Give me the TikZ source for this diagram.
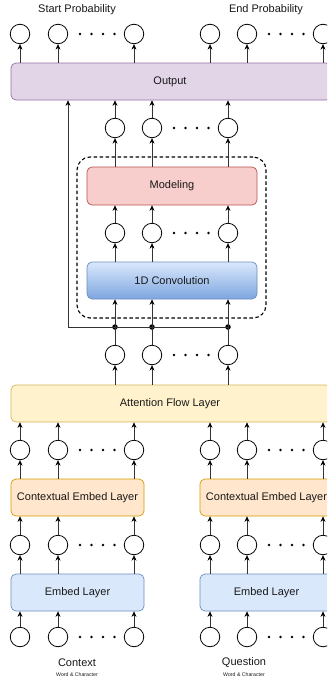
\documentclass[tikz,border=0pt]{standalone}
\usepackage{fontspec}
\setmainfont{Liberation Sans}
\usetikzlibrary{arrows.meta}
\definecolor{outfill}{HTML}{E1D5E7}
\definecolor{outdraw}{HTML}{9673A6}
\definecolor{modfill}{HTML}{F8CECC}
\definecolor{moddraw}{HTML}{B85450}
\definecolor{convtop}{HTML}{DAE8FC}
\definecolor{convbot}{HTML}{7EA6E0}
\definecolor{bluedraw}{HTML}{6C8EBF}
\definecolor{attfill}{HTML}{FFF2CC}
\definecolor{attdraw}{HTML}{D6B656}
\definecolor{ctxfill}{HTML}{FFE6CC}
\definecolor{ctxdraw}{HTML}{D79B00}
\definecolor{embfill}{HTML}{DAE8FC}
\definecolor{linecol}{HTML}{333333}
\begin{document}
\begin{tikzpicture}[x=1pt,y=-1pt,
  neuron/.style={circle,draw=black,line width=0.8pt,minimum size=19.5pt,inner sep=0pt},
  layer/.style={draw,rounded corners=5pt,line width=0.7pt,inner sep=0pt},
  lbl/.style={font=\fontsize{11}{13}\selectfont,inner sep=0pt,text=black!90},
  small/.style={font=\fontsize{5.2}{6}\selectfont,inner sep=0pt,text=black!90},
  arr/.style={draw=linecol,-{Stealth[length=5.5pt,width=5pt,color=black]},line width=0.75pt},
  wire/.style={draw=linecol,line width=0.75pt},
  dotn/.style={circle,fill=black,inner sep=0pt,minimum size=2.8pt},
  jn/.style={circle,fill=black,inner sep=0pt,minimum size=5.5pt}]
\useasboundingbox (0,0) rectangle (327,683);
\clip (0,0) rectangle (327,683);
\fill[white] (0,0) rectangle (327,683);

% ---------- boxes ----------
\node[layer,fill=outfill,draw=outdraw,minimum width=320,minimum height=37] (out) at (171,81.5) {};
\node[lbl] (outT) at (170,81.5) {Output};
\node[draw=black,dashed,dash pattern=on 3.5pt off 2.5pt,line width=1.1pt,rounded corners=13pt,minimum width=189,minimum height=161,inner sep=0pt] (dash) at (171.5,237.5) {};
\node[layer,fill=modfill,draw=moddraw,minimum width=170,minimum height=38,lbl] (mod) at (172,186) {Modeling};
\node[layer,top color=convtop,bottom color=convbot,draw=bluedraw,minimum width=170,minimum height=37,lbl] (conv) at (172,280.5) {1D Convolution};
\node[layer,fill=attfill,draw=attdraw,minimum width=320,minimum height=37] (att) at (171,403.5) {};
\node[lbl] (attT) at (170,403.5) {Attention Flow Layer};
\node[layer,fill=ctxfill,draw=ctxdraw,minimum width=133,minimum height=37,lbl] (ctxL) at (77.5,497.5) {Contextual Embed Layer};
\node[layer,fill=ctxfill,draw=ctxdraw,minimum width=133,minimum height=37,lbl] (ctxR) at (266.5,497.5) {Contextual Embed Layer};
\node[layer,fill=embfill,draw=bluedraw,minimum width=133,minimum height=37,lbl] (embL) at (77.5,592.5) {Embed Layer};
\node[layer,fill=embfill,draw=bluedraw,minimum width=133,minimum height=37,lbl] (embR) at (266.5,592.5) {Embed Layer};

% ---------- texts ----------
\node[lbl] (startT) at (77,10) {Start Probability};
\node[lbl] (endT) at (266,10) {End Probability};
\node[lbl] (ctxT) at (77,663) {Context};
\node[small] (ctxS) at (77,674.5) {Word \& Character};
\node[lbl] (qT) at (244,663) {Question};
\node[small] (qS) at (244,674.5) {Word \& Character};

% ---------- neurons: left/right groups ----------
\foreach \r/\y in {t/34,d/450,e/545,f/637}{
  \foreach \i/\x in {1/20,2/58,3/134,4/210,5/247,6/323}{
    \node[neuron] (\r\i) at (\x,\y) {};
  }
  \foreach \k/\dx in {1/22,2/33.5,3/45,4/56.5}{
    \node[dotn] (\r L\k) at (58+\dx,\y) {};
    \node[dotn] (\r R\k) at (247+\dx,\y) {};
  }
}
% ---------- neurons: middle group ----------
\foreach \r/\y in {a/128,b/233,c/355}{
  \foreach \i/\x in {1/115,2/152,3/228}{
    \node[neuron] (\r\i) at (\x,\y) {};
  }
  \foreach \k/\dx in {1/22,2/33.5,3/45,4/56.5}{
    \node[dotn] (\r M\k) at (152+\dx,\y) {};
  }
}
% junctions
\foreach \i/\x in {1/115,2/152,3/228}{
  \node[jn] (j\i) at (\x,327) {};
}
\coordinate (jl) at (68,327);

% ---------- connectors ----------
\foreach \i in {1,...,6}{
  \draw[arr] (out.north -| t\i) -- (t\i);
}
\foreach \i in {1,2,3}{
  \draw[arr] (a\i) -- (out.south -| a\i);
  \draw[arr] (mod.north -| a\i) -- (a\i);
  \draw[arr] (b\i) -- (mod.south -| b\i);
  \draw[arr] (conv.north -| b\i) -- (b\i);
  \draw[arr] (j\i.center) -- (conv.south -| j\i);
  \draw[wire] (c\i) -- (j\i.center);
  \draw[arr] (att.north -| c\i) -- (c\i);
}
\draw[wire] (jl) -- (j3.center);
\draw[arr] (jl) -- (out.south -| jl);
\foreach \i in {1,...,6}{
  \draw[arr] (d\i) -- (att.south -| d\i);
}
\foreach \i in {1,2,3}{
  \draw[arr] (ctxL.north -| d\i) -- (d\i);
  \draw[arr] (e\i) -- (ctxL.south -| e\i);
  \draw[arr] (embL.north -| e\i) -- (e\i);
  \draw[arr] (f\i) -- (embL.south -| f\i);
}
\foreach \i in {4,5,6}{
  \draw[arr] (ctxR.north -| d\i) -- (d\i);
  \draw[arr] (e\i) -- (ctxR.south -| e\i);
  \draw[arr] (embR.north -| e\i) -- (e\i);
  \draw[arr] (f\i) -- (embR.south -| f\i);
}
\end{tikzpicture}
\end{document}
